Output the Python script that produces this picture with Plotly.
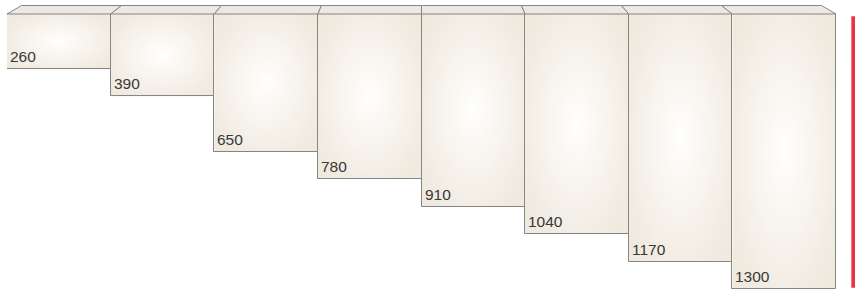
import base64
import plotly.graph_objects as go

values = [260, 390, 650, 780, 910, 1040, 1170, 1300]
labels = [str(v) for v in values]
positions = list(range(len(values)))

EDGE = "#858585"
TOP_FILL = "#ede9e2"
BACK = 40          # depth of the top face in value units
PERSP = 0.035      # perspective pull toward centre

svg = ("<svg xmlns='http://www.w3.org/2000/svg' width='100' height='100' viewBox='0 0 100 100' "
       "preserveAspectRatio='none'><defs><radialGradient id='g' cx='0.5' cy='0.5' r='0.62'>"
       "<stop offset='0' stop-color='#ffffff'/><stop offset='0.15' stop-color='#fdfbf8'/>"
       "<stop offset='1' stop-color='#efe9de'/></radialGradient></defs>"
       "<rect width='100' height='100' fill='url(#g)'/></svg>")
src = "data:image/svg+xml;base64," + base64.b64encode(svg.encode()).decode()

fig = go.Figure()
fig.add_trace(go.Bar(
    x=positions, y=[-v for v in values], width=1,
    marker=dict(color="rgba(0,0,0,0)", line=dict(color=EDGE, width=1)),
    hoverinfo="skip", showlegend=False,
))

centre = (len(values) - 1) / 2
images, shapes, annotations = [], [], []
for i, v in enumerate(values):
    images.append(dict(source=src, xref="x", yref="y", x=i - 0.5, y=0,
                       sizex=1, sizey=v, sizing="stretch",
                       xanchor="left", yanchor="top", layer="below"))
    xl, xr = i - 0.5, i + 0.5
    bl = xl + PERSP * (centre - xl)
    br = xr + PERSP * (centre - xr)
    shapes.append(dict(type="path", xref="x", yref="y",
                       path=f"M {xl} 0 L {xr} 0 L {br} {BACK} L {bl} {BACK} Z",
                       fillcolor=TOP_FILL, line=dict(color=EDGE, width=1), layer="above"))
    annotations.append(dict(x=xl, y=-v, xref="x", yref="y", text=labels[i],
                            showarrow=False, xanchor="left", yanchor="bottom",
                            xshift=1, yshift=2,
                            font=dict(family="Liberation Sans, Arial", size=15.5, color="#383838")))

# red strip at right edge
shapes.append(dict(type="rect", xref="paper", yref="paper", x0=1.0185, x1=1.03,
                   y0=0.004, y1=0.96, fillcolor="#e8343f", line=dict(width=0), layer="above"))

fig.update_layout(
    width=855, height=293,
    margin=dict(l=7, r=19, t=5, b=4),
    paper_bgcolor="white", plot_bgcolor="white",
    xaxis=dict(range=[-0.5, 7.5], visible=False, fixedrange=True),
    yaxis=dict(range=[-1300, 42.5], visible=False, fixedrange=True),
    images=images, shapes=shapes, annotations=annotations,
    bargap=0, showlegend=False,
)
fig.write_html("out.html", config={"displayModeBar": False},
               post_script="document.body.style.margin='0';document.body.style.overflow='hidden';")
